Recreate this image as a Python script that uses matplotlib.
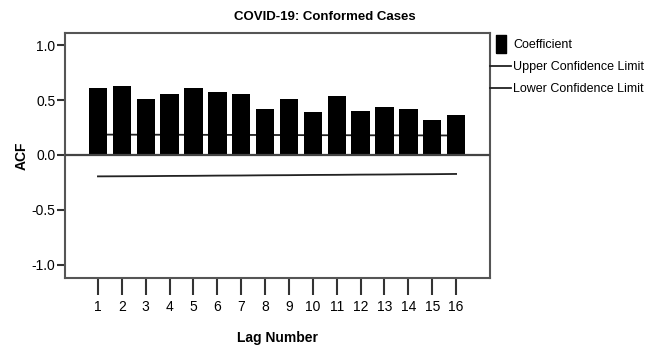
import matplotlib
matplotlib.use("Agg")
import matplotlib.pyplot as plt
from matplotlib.lines import Line2D

# ACF of confirmed cases
lags = list(range(1, 17))
acf = [0.613, 0.625, 0.508, 0.553, 0.613, 0.571, 0.553, 0.420,
       0.511, 0.387, 0.541, 0.396, 0.435, 0.420, 0.314, 0.366]
upper = [0.185, 0.185, 0.184, 0.184, 0.183, 0.183, 0.182, 0.182,
         0.181, 0.180, 0.180, 0.179, 0.179, 0.178, 0.178, 0.177]
lower = [-0.195, -0.194, -0.193, -0.191, -0.190, -0.188, -0.187, -0.185,
         -0.184, -0.182, -0.181, -0.179, -0.178, -0.176, -0.175, -0.173]

plt.rcParams['font.family'] = ['Liberation Sans', 'DejaVu Sans']

fig = plt.figure(figsize=(6.51, 3.47), dpi=100)
ax = fig.add_axes([65/651, 1 - 278/347, (490-65)/651, (278-33)/347])

ax.plot(lags, upper, color='#222222', lw=1.3, zorder=1)
ax.bar(lags, acf, width=0.77, color='black', zorder=2)
ax.plot(lags, lower, color='#222222', lw=1.3, zorder=1)
ax.axhline(0, color='#444444', lw=1.6, zorder=3)

ax.set_xlim(-0.38, 17.42)
ax.set_ylim(-1.12, 1.11)
ax.set_xticks(lags)
ax.set_yticks([-1.0, -0.5, 0.0, 0.5, 1.0])
ax.set_yticklabels(['-1.0', '-0.5', '0.0', '0.5', '1.0'])
ax.tick_params(axis='x', length=12, width=1.5, color='#333333', labelsize=10, pad=4)
ax.tick_params(axis='y', length=6, width=1.5, color='#333333', labelsize=10, pad=1)
for s in ax.spines.values():
    s.set_color('#555555')
    s.set_linewidth(1.5)

ax.set_xlabel('Lag Number', fontsize=10, fontweight='bold', va='center')
ax.xaxis.set_label_coords(0.5, -0.245)
ax.set_ylabel('ACF', fontsize=10, fontweight='bold', va='center')
ax.yaxis.set_label_coords(-0.103, 0.5)
fig.text(325/651, 1 - 17/347, 'COVID-19: Conformed Cases', ha='center', va='center',
         fontsize=9.5, fontweight='bold')

box = [(-0.6, -1), (0.6, -1), (0.6, 1), (-0.6, 1), (-0.6, -1)]
handles = [Line2D([], [], ls='none', marker=box, markersize=13, color='black'),
           Line2D([], [], color='#222222', lw=1.3),
           Line2D([], [], color='#222222', lw=1.3)]
labels = ['Coefficient', 'Upper Confidence Limit', 'Lower Confidence Limit']
fig.legend(handles, labels, loc='upper left', bbox_to_anchor=(490/651, 1 - 39/347),
           frameon=False, fontsize=9, handlelength=1.7, handletextpad=0.15,
           labelspacing=0.8, borderaxespad=0, borderpad=0)

fig.savefig('out.png', dpi=100)
